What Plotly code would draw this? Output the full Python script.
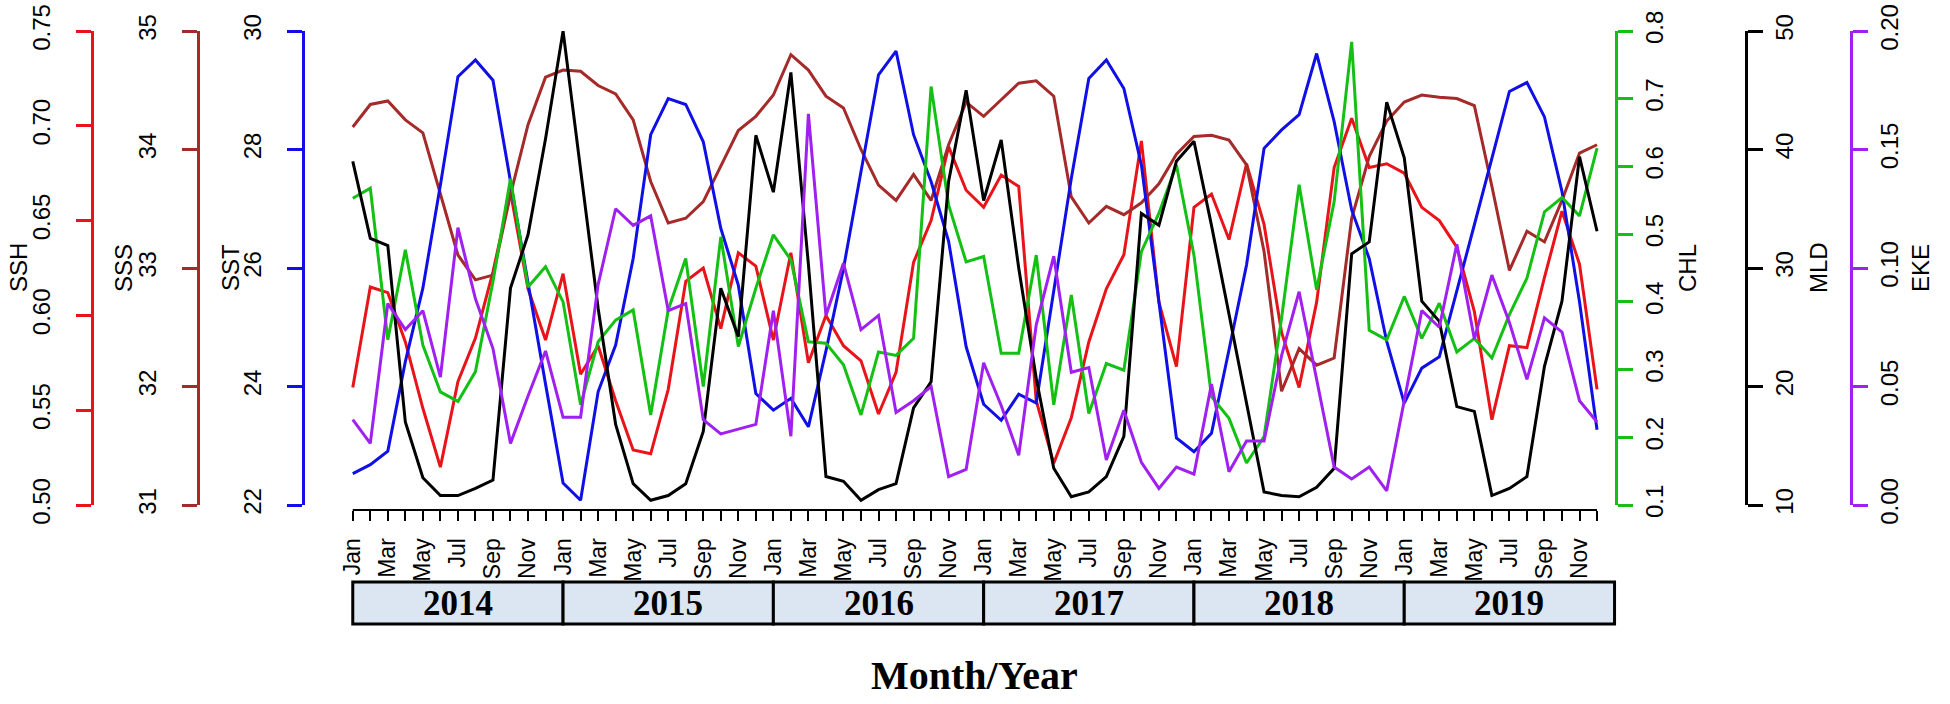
import plotly.graph_objects as go

years = ["2014", "2015", "2016", "2017", "2018", "2019"]
month_names = ["Jan", "", "Mar", "", "May", "", "Jul", "", "Sep", "", "Nov", ""]

ssh = [0.562, 0.615, 0.612, 0.586, 0.551, 0.520, 0.565, 0.588, 0.623, 0.665, 0.614, 0.587,
       0.622, 0.569, 0.584, 0.555, 0.529, 0.527, 0.561, 0.618, 0.625, 0.593, 0.633, 0.626,
       0.587, 0.633, 0.575, 0.600, 0.584, 0.576, 0.548, 0.570, 0.628, 0.650, 0.689, 0.666,
       0.657, 0.674, 0.668, 0.555, 0.522, 0.546, 0.586, 0.614, 0.632, 0.692, 0.607, 0.573,
       0.657, 0.664, 0.640, 0.680, 0.648, 0.591, 0.562, 0.607, 0.678, 0.704, 0.678, 0.680,
       0.675, 0.657, 0.650, 0.636, 0.602, 0.545, 0.584, 0.583, 0.620, 0.655, 0.627, 0.561]

sss = [34.19, 34.38, 34.41, 34.25, 34.14, 33.63, 33.11, 32.90, 32.94, 33.62, 34.21, 34.61,
       34.67, 34.66, 34.54, 34.47, 34.25, 33.73, 33.38, 33.42, 33.56, 33.86, 34.16, 34.28,
       34.46, 34.80, 34.67, 34.45, 34.35, 34.00, 33.70, 33.57, 33.79, 33.57, 34.04, 34.40,
       34.28, 34.42, 34.56, 34.58, 34.45, 33.60, 33.38, 33.52, 33.45, 33.55, 33.71, 33.96,
       34.11, 34.12, 34.08, 33.87, 33.14, 31.96, 32.32, 32.18, 32.24, 33.42, 33.94, 34.24,
       34.40, 34.46, 34.44, 34.43, 34.37, 33.69, 32.98, 33.31, 33.22, 33.57, 33.97, 34.04]

sst = [22.53, 22.68, 22.91, 24.42, 25.66, 27.40, 29.23, 29.51, 29.17, 27.45, 25.74, 24.04,
       22.37, 22.08, 23.91, 24.70, 26.16, 28.25, 28.86, 28.76, 28.13, 26.67, 25.71, 23.88,
       23.60, 23.80, 23.32, 24.60, 25.99, 27.63, 29.26, 29.66, 28.25, 27.46, 26.45, 24.67,
       23.70, 23.43, 23.87, 23.72, 25.60, 27.51, 29.20, 29.51, 29.03, 27.74, 25.43, 23.13,
       22.90, 23.21, 24.62, 26.05, 28.02, 28.33, 28.59, 29.62, 28.47, 26.98, 26.16, 24.76,
       23.72, 24.31, 24.50, 25.60, 26.73, 27.85, 28.98, 29.13, 28.55, 27.29, 25.43, 23.27]

chl = [0.553, 0.568, 0.344, 0.477, 0.336, 0.267, 0.253, 0.297, 0.430, 0.582, 0.422, 0.452,
       0.400, 0.248, 0.341, 0.373, 0.388, 0.233, 0.388, 0.464, 0.275, 0.496, 0.334, 0.420,
       0.499, 0.462, 0.341, 0.339, 0.307, 0.233, 0.326, 0.321, 0.346, 0.718, 0.543, 0.459,
       0.467, 0.324, 0.324, 0.469, 0.248, 0.410, 0.235, 0.309, 0.299, 0.474, 0.531, 0.602,
       0.469, 0.260, 0.228, 0.162, 0.201, 0.376, 0.573, 0.418, 0.548, 0.784, 0.358, 0.344,
       0.408, 0.346, 0.398, 0.326, 0.346, 0.317, 0.381, 0.435, 0.533, 0.554, 0.527, 0.627]

mld = [39.0, 32.5, 31.9, 17.0, 12.3, 10.8, 10.8, 11.4, 12.1, 28.3, 32.8, 40.9,
       50.0, 38.4, 26.6, 16.8, 11.8, 10.4, 10.8, 11.8, 16.2, 28.3, 24.2, 41.2,
       36.4, 46.5, 30.3, 12.4, 12.0, 10.4, 11.3, 11.8, 18.2, 20.4, 37.3, 45.0,
       35.7, 40.8, 30.0, 20.7, 13.1, 10.7, 11.1, 12.4, 15.8, 34.6, 33.6, 39.0,
       40.7, 33.6, 26.2, 18.7, 11.1, 10.8, 10.7, 11.5, 13.1, 31.2, 32.2, 44.0,
       39.3, 27.2, 25.5, 18.3, 17.9, 10.8, 11.4, 12.4, 21.7, 27.2, 39.4, 33.1]

eke = [0.036, 0.026, 0.085, 0.074, 0.082, 0.054, 0.117, 0.087, 0.066, 0.026, 0.046, 0.065,
       0.037, 0.037, 0.093, 0.125, 0.118, 0.122, 0.082, 0.085, 0.036, 0.030, 0.032, 0.034,
       0.082, 0.029, 0.165, 0.080, 0.102, 0.074, 0.080, 0.039, 0.044, 0.050, 0.012, 0.015,
       0.060, 0.042, 0.021, 0.076, 0.105, 0.056, 0.058, 0.019, 0.040, 0.018, 0.007, 0.016,
       0.013, 0.051, 0.014, 0.027, 0.027, 0.063, 0.090, 0.053, 0.016, 0.011, 0.016, 0.006,
       0.044, 0.082, 0.075, 0.110, 0.070, 0.097, 0.077, 0.053, 0.079, 0.073, 0.044, 0.035]

ssh_ticks = [0.50, 0.55, 0.60, 0.65, 0.70, 0.75]
sss_ticks = [31, 32, 33, 34, 35]
sst_ticks = [22, 24, 26, 28, 30]
chl_ticks = [0.1, 0.2, 0.3, 0.4, 0.5, 0.6, 0.7, 0.8]
mld_ticks = [10, 20, 30, 40, 50]
eke_ticks = [0.00, 0.05, 0.10, 0.15, 0.20]

months = list(range(len(ssh)))
month_text = month_names * len(years)

W, H = 1950, 704
TOP, BOTTOM, AXIS_Y = 31, 505, 510   # plot top, plot bottom, x-axis line
PH = AXIS_Y - TOP
ydom = [(AXIS_Y - BOTTOM) / PH, 1]
SANS = "Liberation Sans, Arial, sans-serif"
SERIF = "Liberation Serif, Times New Roman, serif"


def py(px):
    # pixel row -> paper y
    return (AXIS_Y - px) / PH


def yaxis(ticks, fmt, color, xpx, side, overlay=True):
    ax = dict(range=[ticks[0], ticks[-1]], domain=ydom, anchor="free", position=xpx / W,
              side=side, tickmode="array", tickvals=ticks, tickformat=fmt,
              showline=True, linecolor=color, linewidth=3,
              ticks="outside", ticklen=15, tickwidth=3, tickcolor=color,
              tickangle=-90, tickfont=dict(family=SANS, size=24, color="black"),
              ticklabelstandoff=16 if side == "left" else 1,
              showgrid=False, zeroline=False, automargin=False)
    if overlay:
        ax["overlaying"] = "y"
    return ax


series = [
    ("SSH", ssh, "#e8141a", "y", ssh_ticks, ".2f", 92, "left", 18),
    ("SSS", sss, "#a52a2a", "y2", sss_ticks, "d", 198, "left", 123),
    ("SST", sst, "#1010e6", "y3", sst_ticks, "d", 303, "left", 230),
    ("CHL", chl, "#14c014", "y4", chl_ticks, ".1f", 1616, "right", 1687),
    ("MLD", mld, "#000000", "y5", mld_ticks, "d", 1746, "right", 1818),
    ("EKE", eke, "#a020f0", "y6", eke_ticks, ".2f", 1851, "right", 1920),
]

fig = go.Figure()
layout = {}
annotations = []
for i, (name, vals, color, yref, ticks, fmt, xpx, side, titlex) in enumerate(series):
    fig.add_trace(go.Scatter(x=months, y=vals, mode="lines", name=name, yaxis=yref,
                             line=dict(color=color, width=3)))
    key = "yaxis" if i == 0 else "yaxis%d" % (i + 1)
    layout[key] = yaxis(ticks, fmt, color, xpx, side, overlay=(i > 0))
    annotations.append(dict(text=name, x=titlex / W, y=py(268), xref="paper", yref="paper",
                            textangle=-90, showarrow=False, xanchor="center", yanchor="middle",
                            font=dict(family=SANS, size=24, color="black")))

# x-axis line and the year boxes under the month labels
shapes = [dict(type="line", xref="x", yref="paper", x0=0, x1=months[-1], y0=0, y1=0,
               line=dict(color="black", width=2))]
for k, yr in enumerate(years):
    shapes.append(dict(type="rect", xref="x", yref="paper", x0=12 * k, x1=12 * k + 12,
                       y0=py(624), y1=py(582), fillcolor="#dce6f2",
                       line=dict(color="black", width=3)))
    annotations.append(dict(text="<b>%s</b>" % yr, x=12 * k + 6, y=py(603), xref="x", yref="paper",
                            showarrow=False, xanchor="center", yanchor="middle",
                            font=dict(family=SERIF, size=35, color="black")))

annotations.append(dict(text="<b>Month/Year</b>", x=35.5, y=py(675), xref="x", yref="paper",
                        showarrow=False, xanchor="center", yanchor="middle",
                        font=dict(family=SERIF, size=40, color="black")))

x0_px = 303
pad = (months[-1] - months[0]) * 0.04
x1_px = 352 + (1597 - 352) * (months[-1] + pad) / months[-1]
fig.update_layout(
    width=W, height=H,
    margin=dict(l=0, r=0, t=TOP, b=H - AXIS_Y, pad=0),
    paper_bgcolor="white", plot_bgcolor="white",
    showlegend=False,
    xaxis=dict(domain=[x0_px / W, x1_px / W], range=[-pad, months[-1] + pad],
               anchor="free", position=0, tickmode="array", tickvals=months, ticktext=month_text,
               ticks="outside", ticklen=10, tickwidth=2, tickcolor="black", tickangle=-90,
               tickfont=dict(family=SANS, size=23, color="black"), ticklabelstandoff=8,
               showline=False, showgrid=False, zeroline=False, automargin=False),
    shapes=shapes,
    annotations=annotations,
    **layout,
)

# page margin off so the 1950x704 figure fills the window exactly
fig.write_html("out.html", config={"displayModeBar": False},
               post_script="document.body.style.margin='0';")
